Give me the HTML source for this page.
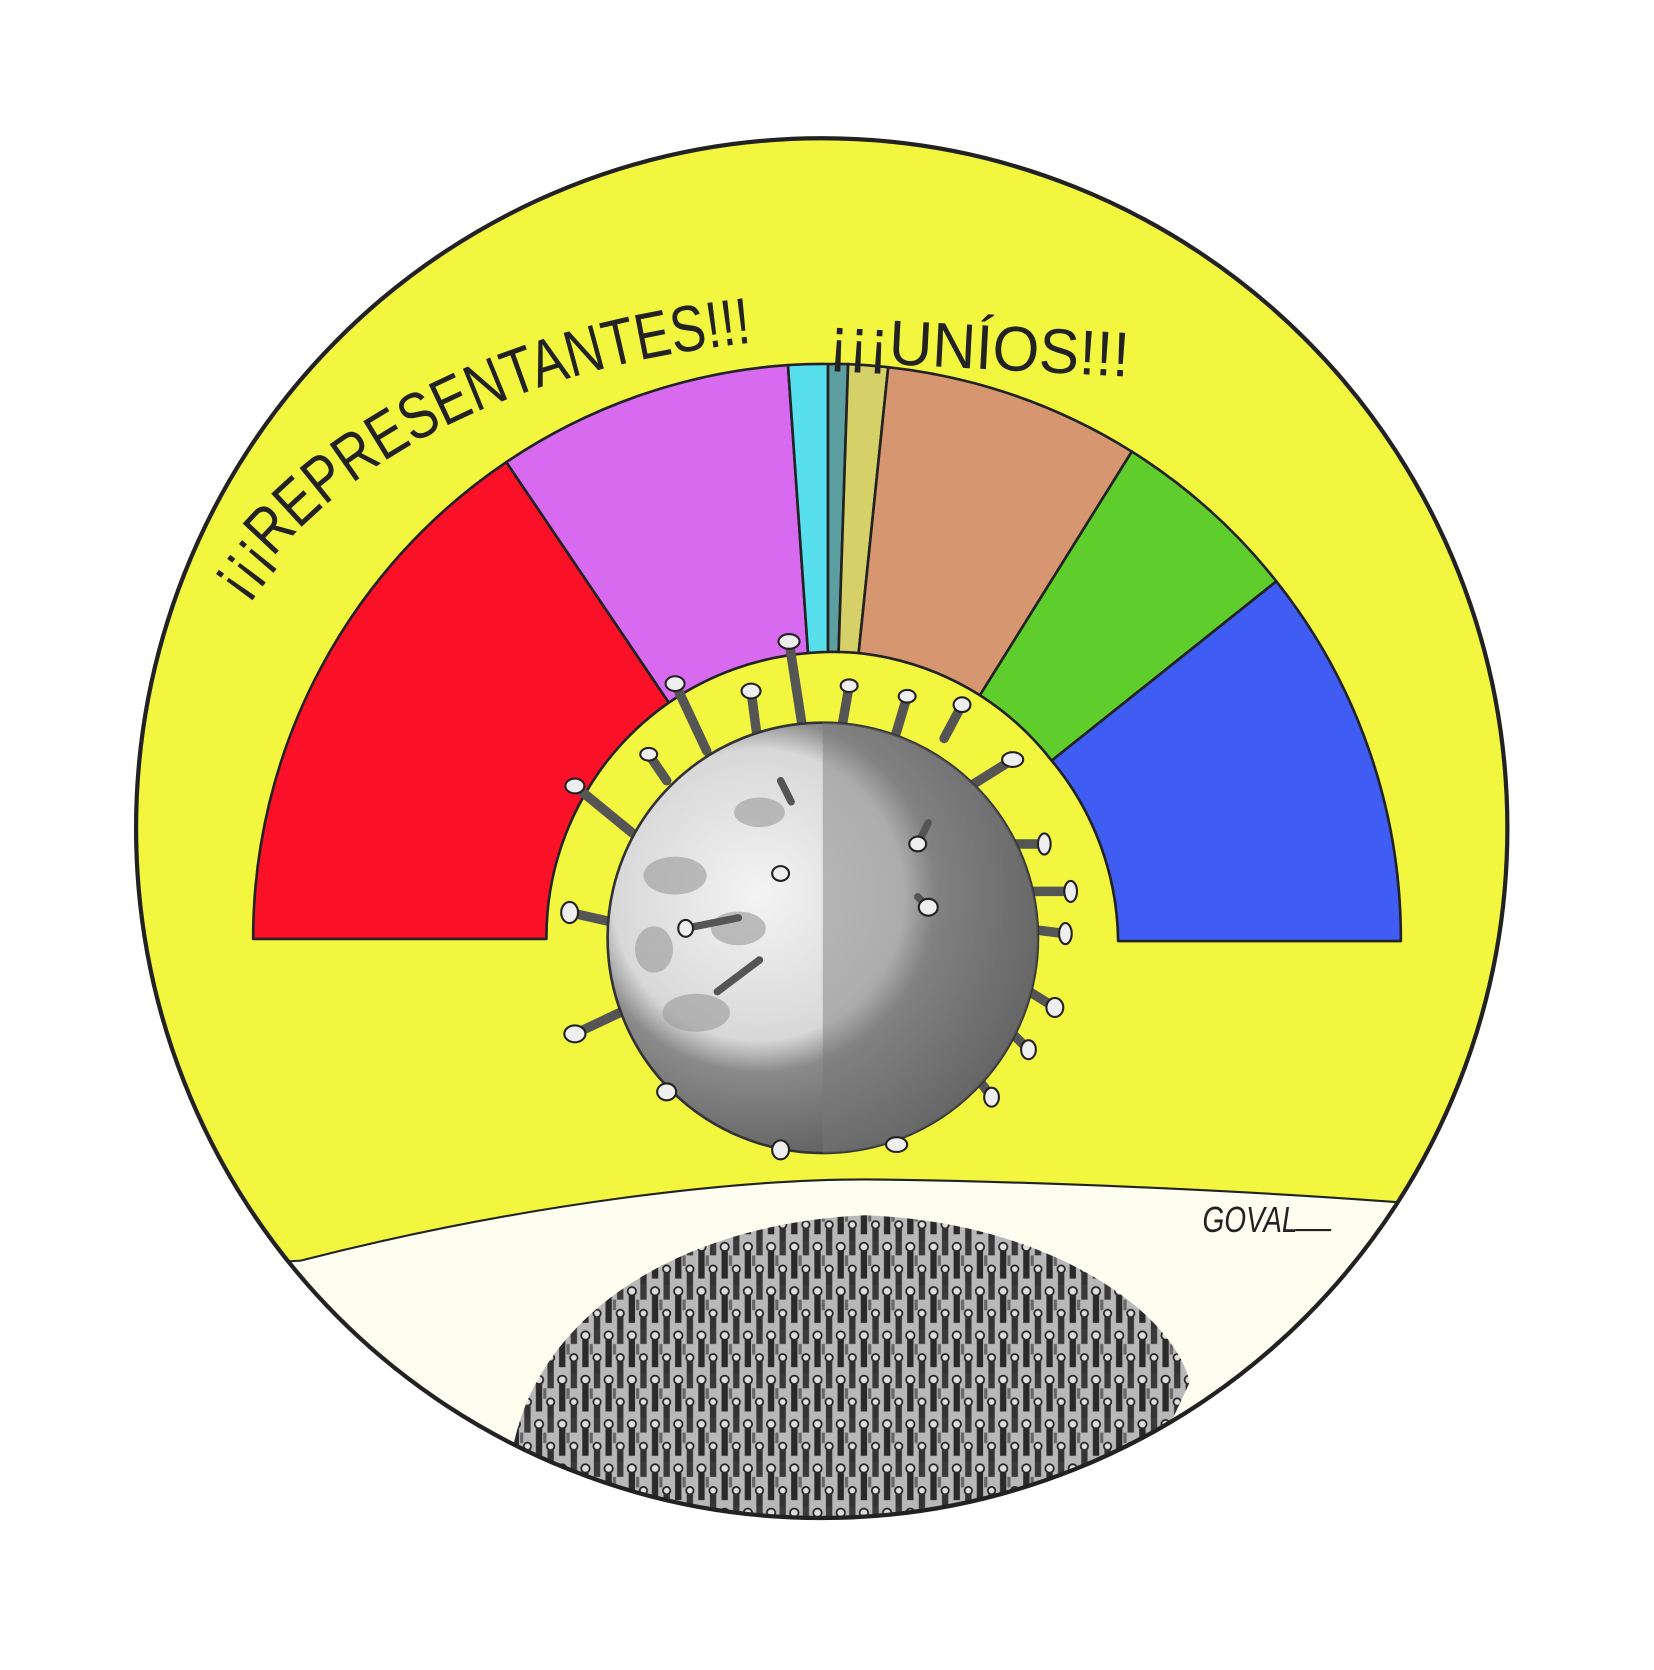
<!DOCTYPE html>
<html><head><meta charset="utf-8"><style>html,body{margin:0;padding:0;background:#fff}svg{display:block}</style></head>
<body>
<svg width="1654" height="1670" viewBox="0 0 1568 1583" xmlns="http://www.w3.org/2000/svg">
<defs>
<clipPath id="circ"><ellipse cx="779" cy="785" rx="650" ry="654"/></clipPath>
<pattern id="crowd" width="22" height="42" patternUnits="userSpaceOnUse">
<rect width="22" height="42" fill="#b8b8b8"/>
<circle cx="5" cy="6" r="4" fill="#ddd" stroke="#222" stroke-width="1.6"/>
<rect x="2" y="10" width="6" height="26" fill="#2a2a2a"/>
<circle cx="16" cy="27" r="3.5" fill="#ddd" stroke="#222" stroke-width="1.6"/>
<rect x="13" y="30" width="6" height="12" fill="#333"/>
<rect x="13" y="0" width="6" height="14" fill="#3a3a3a"/>
<rect x="9" y="14" width="3" height="10" fill="#666"/>
</pattern>
<radialGradient id="vg" cx="0.35" cy="0.4" r="0.75">
<stop offset="0" stop-color="#f4f4f4"/><stop offset="0.45" stop-color="#d8d8d8"/><stop offset="0.55" stop-color="#8a8a8a"/><stop offset="1" stop-color="#4a4a4a"/>
</radialGradient>
</defs>
<rect width="1568" height="1583" fill="#fff"/>
<g clip-path="url(#circ)">
<rect width="1568" height="1583" fill="#f3f63f"/>
<path d="M 200 1200 L 285 1195 C 500 1140 700 1118 820 1118 C 1000 1120 1200 1130 1330 1140 L 1500 1150 L 1500 1600 L 100 1600 Z" fill="#fdfdf0" stroke="#222" stroke-width="2"/>
<path d="M 485 1380 C 505 1250 640 1160 820 1152 C 990 1158 1110 1240 1128 1310 L 1100 1370 L 1000 1450 L 520 1450 Z" fill="url(#crowd)"/>
</g>
<ellipse cx="779" cy="785" rx="650" ry="654" fill="none" stroke="#222" stroke-width="4"/>
<g stroke="#222" stroke-width="2.5" stroke-linejoin="round">
<path d="M 240 890 A 545 545 0 0 1 480 438 L 634 666 A 272 272 0 0 0 518 890 Z" fill="#fa1027"/>
<path d="M 480 438 A 545 545 0 0 1 747 346 L 766 619 A 272 272 0 0 0 634 666 Z" fill="#d86af0"/>
<path d="M 747 346 A 545 545 0 0 1 785 345 L 785 618 A 272 272 0 0 0 766 619 Z" fill="#58dfee"/>
<path d="M 785 345 A 545 545 0 0 1 804 345 L 795 618 A 272 272 0 0 0 785 618 Z" fill="#5d9fa0"/>
<path d="M 804 345 A 545 545 0 0 1 842 348 L 814 619 A 272 272 0 0 0 795 618 Z" fill="#d5d067"/>
<path d="M 842 348 A 545 545 0 0 1 1073 428 L 929 659 A 272 272 0 0 0 814 619 Z" fill="#d69670"/>
<path d="M 1073 428 A 545 545 0 0 1 1210 551 L 997 721 A 272 272 0 0 0 929 659 Z" fill="#5fcd2c"/>
<path d="M 1210 551 A 545 545 0 0 1 1328 892 L 1060 892 A 272 272 0 0 0 997 721 Z" fill="#3f5cf3"/>
</g>
<g stroke-width="9" stroke="#555" stroke-linecap="round">
<line x1="600" y1="790" x2="545" y2="745"/><line x1="585" y1="875" x2="540" y2="865"/><line x1="598" y1="955" x2="545" y2="980"/>
<line x1="660" y1="1010" x2="632" y2="1035"/><line x1="745" y1="1060" x2="740" y2="1090"/><line x1="838" y1="1055" x2="850" y2="1085"/>
<line x1="918" y1="1010" x2="940" y2="1040"/><line x1="950" y1="970" x2="975" y2="995"/><line x1="960" y1="930" x2="1000" y2="955"/>
<line x1="970" y1="880" x2="1010" y2="885"/><line x1="975" y1="845" x2="1015" y2="845"/><line x1="955" y1="800" x2="990" y2="800"/>
<line x1="920" y1="745" x2="960" y2="720"/><line x1="895" y1="700" x2="912" y2="668"/><line x1="848" y1="700" x2="860" y2="660"/>
<line x1="798" y1="690" x2="805" y2="650"/><line x1="760" y1="685" x2="748" y2="608"/><line x1="718" y1="700" x2="712" y2="655"/>
<line x1="670" y1="712" x2="640" y2="648"/><line x1="632" y1="740" x2="615" y2="715"/>
</g>
<circle cx="780" cy="889" r="204" fill="url(#vg)" stroke="#333" stroke-width="2.5"/>
<path d="M 780 685 A 204 204 0 0 1 780 1093 Z" fill="#777" opacity="0.45"/>
<g fill="#9a9a9a" opacity="0.6">
<ellipse cx="640" cy="830" rx="30" ry="18"/><ellipse cx="700" cy="880" rx="26" ry="16"/><ellipse cx="660" cy="960" rx="32" ry="18"/><ellipse cx="720" cy="770" rx="24" ry="14"/><ellipse cx="620" cy="900" rx="18" ry="22"/>
</g>
<g stroke="#555" stroke-width="7" stroke-linecap="round">
<line x1="700" y1="870" x2="650" y2="880"/><line x1="680" y1="940" x2="720" y2="910"/><line x1="870" y1="800" x2="880" y2="780"/><line x1="880" y1="860" x2="870" y2="850"/><line x1="750" y1="760" x2="740" y2="740"/>
</g>
<g fill="#eee" stroke="#222" stroke-width="2">
<ellipse cx="545" cy="745" rx="9" ry="7"/><ellipse cx="540" cy="865" rx="8" ry="10"/><ellipse cx="545" cy="980" rx="10" ry="8"/>
<ellipse cx="632" cy="1035" rx="9" ry="8"/><ellipse cx="740" cy="1090" rx="8" ry="9"/><ellipse cx="850" cy="1085" rx="10" ry="7"/>
<ellipse cx="940" cy="1040" rx="7" ry="9"/><ellipse cx="975" cy="995" rx="7" ry="9"/><ellipse cx="1000" cy="955" rx="8" ry="9"/>
<ellipse cx="1010" cy="885" rx="6" ry="10"/><ellipse cx="1015" cy="845" rx="6" ry="10"/><ellipse cx="990" cy="800" rx="6" ry="10"/>
<ellipse cx="960" cy="720" rx="10" ry="7"/><ellipse cx="912" cy="668" rx="8" ry="7"/><ellipse cx="860" cy="660" rx="8" ry="6"/>
<ellipse cx="805" cy="650" rx="8" ry="6"/><ellipse cx="748" cy="608" rx="10" ry="7"/><ellipse cx="712" cy="655" rx="9" ry="7"/>
<ellipse cx="640" cy="648" rx="9" ry="7"/><ellipse cx="615" cy="715" rx="8" ry="6"/>
<ellipse cx="740" cy="828" rx="8" ry="7"/><ellipse cx="650" cy="880" rx="7" ry="8"/><ellipse cx="880" cy="860" rx="9" ry="8"/><ellipse cx="870" cy="800" rx="8" ry="7"/>
</g>
<path id="tp" d="M 228 568 C 330 420 520 335 770 320" fill="none"/>
<text font-family="'Liberation Sans Narrow','Liberation Sans',sans-serif" font-size="62" fill="#222"><textPath href="#tp" textLength="560" lengthAdjust="spacingAndGlyphs">¡¡¡REPRESENTANTES!!!</textPath></text>
<text x="785" y="342" font-family="'Liberation Sans Narrow','Liberation Sans',sans-serif" font-size="60" fill="#222" textLength="285" lengthAdjust="spacingAndGlyphs" transform="rotate(3 785 342)">¡¡¡UNÍOS!!!</text>
<text x="1140" y="1168" font-family="'Liberation Sans',sans-serif" font-style="italic" font-size="34" fill="#222" textLength="90" lengthAdjust="spacingAndGlyphs">GOVAL</text>
<line x1="1228" y1="1166" x2="1262" y2="1166" stroke="#222" stroke-width="2"/>
</svg>
</body></html>
